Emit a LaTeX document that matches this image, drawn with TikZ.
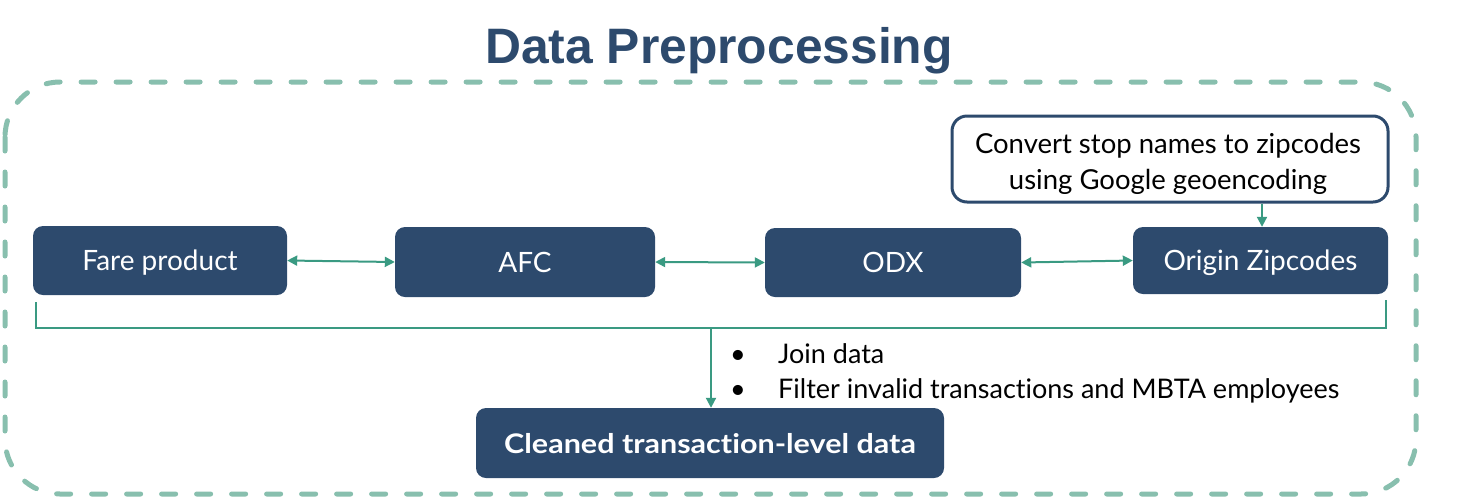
\documentclass[tikz,border=0pt]{standalone}
\usepackage{fontspec}
\setmainfont{Lato}[Ligatures={NoCommon}]
\newfontfamily\titlefont{Liberation Sans}
\usetikzlibrary{arrows.meta}
\definecolor{boxblue}{HTML}{2D4A6D}
\definecolor{teal}{HTML}{3A9A82}
\definecolor{lteal}{HTML}{88BFAE}
\begin{document}
\begin{tikzpicture}[x=1pt,y=-1pt,
  blockbox/.style={draw=none,fill=boxblue,rounded corners=10pt,text=white,
    inner sep=0pt,font=\fontsize{28}{32}\selectfont,text height=20pt,text depth=0pt},
  notebox/.style={draw=boxblue,line width=3pt,fill=white,rounded corners=15pt,
    inner sep=0pt,align=center,font=\fontsize{27.5}{37}\selectfont},
  link/.style={draw=teal,line width=2pt,{Triangle[length=10pt,width=10pt]}-{Triangle[length=10pt,width=10pt]}},
  onearrow/.style={draw=teal,line width=2pt,-{Triangle[length=10pt,width=10pt]}},
  bullettext/.style={anchor=base west,inner sep=0pt,font=\fontsize{27}{30}\selectfont}]
\useasboundingbox (0,0) rectangle (1479,499);
% dashed frame
\draw[lteal,line width=5pt,dash pattern=on 14pt off 21pt,line cap=round,rounded corners=55pt]
  (5,82) rectangle (1416,494);
% title
\node[anchor=base,inner sep=0pt,text=boxblue,font=\titlefont\bfseries\fontsize{49.8}{55}\selectfont] (title) at (719,63) {Data Preprocessing};
% blocks
\node[blockbox,minimum width=254pt,minimum height=69pt] (fare) at (160,260.5) {Fare product};
\node[blockbox,minimum width=260pt,minimum height=70pt] (afc) at (525,262) {AFC};
\node[blockbox,minimum width=256pt,minimum height=69pt] (odx) at (893,262.5) {ODX};
\node[blockbox,minimum width=255pt,minimum height=67pt] (zip) at (1260.5,260.5) {Origin Zipcodes};
\node[notebox,minimum width=436pt,minimum height=86pt] (conv) at (1170,159) {};
\node[anchor=base,inner sep=0pt,font=\fontsize{27.5}{37}\selectfont] (c1) at (1168,153) {Convert stop names to zipcodes};
\node[anchor=base,inner sep=0pt,font=\fontsize{27.5}{37}\selectfont] (c2) at (1168,189) {using Google geoencoding};
\node[blockbox,minimum width=468pt,minimum height=70pt,font=\bfseries\fontsize{27}{30}\selectfont\addfontfeature{FakeStretch=1.13}] (clean) at (710,443) {Cleaned transaction-level data};
% links
\draw[link] (fare.east) -- (afc.west);
\draw[link] (afc.east) -- (odx.west);
\draw[link] (odx.east) -- (zip.west);
\coordinate (cz) at (1262,0);
\draw[onearrow] (conv.south -| cz) -- (zip.north -| cz);
% bracket
\coordinate (bl) at (36,302);
\coordinate (br) at (1386,300);
\coordinate (bj) at (711,328);
\draw[teal,line width=2.5pt] (bl) |- (bj) -| (br);
\draw[onearrow] (bj) -- (bj |- clean.north);
% bullets
\node[bullettext] (b1) at (730,363) {\textbullet};
\node[bullettext] (t1) at (778,363) {Join data};
\node[bullettext] (b2) at (730,398) {\textbullet};
\node[bullettext] (t2) at (778,398) {Filter invalid transactions and MBTA employees};
\end{tikzpicture}
\end{document}
